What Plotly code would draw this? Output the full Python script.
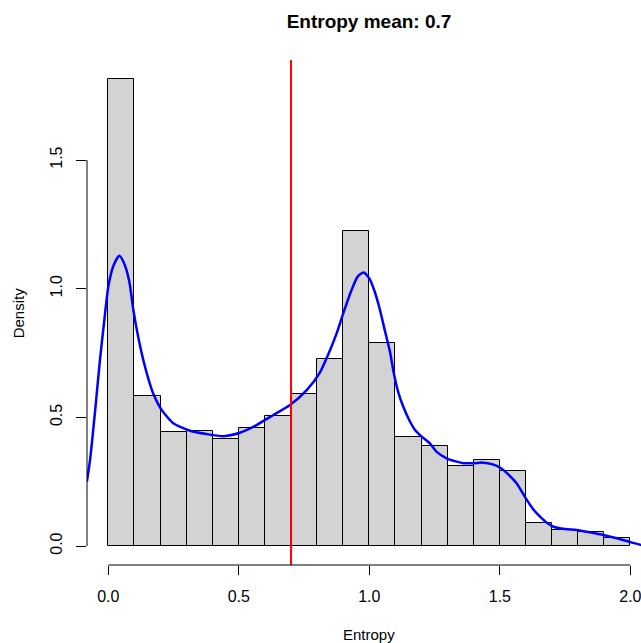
import plotly.graph_objects as go

# Histogram of entropy values (density scale, bin width 0.1)
bin_left = [0.0, 0.1, 0.2, 0.3, 0.4, 0.5, 0.6, 0.7, 0.8, 0.9,
            1.0, 1.1, 1.2, 1.3, 1.4, 1.5, 1.6, 1.7, 1.8, 1.9]
bin_density = [1.815, 0.582, 0.443, 0.446, 0.415, 0.457, 0.506, 0.591, 0.725, 1.223,
               0.788, 0.425, 0.389, 0.312, 0.334, 0.293, 0.088, 0.061, 0.054, 0.032]
bin_width = 0.1

# Kernel density estimate of the same values
kde_x = [-0.082, -0.070, -0.050, -0.032, -0.015, 0.000, 0.020, 0.042, 0.060, 0.080,
         0.096, 0.115, 0.134, 0.155, 0.172, 0.205, 0.249, 0.313, 0.377, 0.441,
         0.504, 0.568, 0.632, 0.696, 0.760, 0.811, 0.849, 0.875, 0.900, 0.930,
         0.955, 0.978, 1.000, 1.020, 1.040, 1.060, 1.080, 1.092, 1.110, 1.130,
         1.156, 1.175, 1.194, 1.232, 1.258, 1.296, 1.335, 1.360, 1.400, 1.436,
         1.470, 1.500, 1.530, 1.564, 1.603, 1.630, 1.654, 1.680, 1.705, 1.750,
         1.794, 1.850, 1.896, 1.948, 2.000, 2.045]
kde_y = [0.250, 0.334, 0.530, 0.723, 0.880, 1.008, 1.090, 1.128, 1.100, 1.030,
         0.917, 0.810, 0.723, 0.645, 0.593, 0.528, 0.477, 0.448, 0.435, 0.427,
         0.440, 0.470, 0.509, 0.548, 0.606, 0.675, 0.760, 0.827, 0.904, 0.990,
         1.047, 1.063, 1.040, 0.990, 0.920, 0.835, 0.750, 0.680, 0.600, 0.541,
         0.483, 0.451, 0.431, 0.399, 0.366, 0.341, 0.328, 0.322, 0.322, 0.324,
         0.318, 0.305, 0.280, 0.244, 0.179, 0.140, 0.114, 0.090, 0.075, 0.066,
         0.062, 0.052, 0.043, 0.030, 0.015, 0.003]

entropy_mean = 0.7

x_ticks = [0.0, 0.5, 1.0, 1.5, 2.0]
y_ticks = [0.0, 0.5, 1.0, 1.5]

FONT = "Liberation Sans, Arial, Helvetica, sans-serif"

bin_centers = [b + bin_width / 2 for b in bin_left]

fig = go.Figure()

fig.add_trace(go.Bar(
    x=bin_centers,
    y=bin_density,
    width=[bin_width] * len(bin_left),
    marker=dict(color="#D3D3D3", line=dict(color="black", width=1)),
    hoverinfo="skip",
    showlegend=False,
))

fig.add_trace(go.Scatter(
    x=kde_x,
    y=kde_y,
    mode="lines",
    line=dict(color="#0000FF", width=2.5, shape="spline", smoothing=0.6),
    hoverinfo="skip",
    showlegend=False,
))

shapes = [
    # mean marker
    dict(type="line", xref="x", yref="paper", x0=entropy_mean, x1=entropy_mean,
         y0=0, y1=1, line=dict(color="#FF0000", width=2)),
    # x axis line spanning the tick range
    dict(type="line", xref="x", yref="paper", x0=x_ticks[0], x1=x_ticks[-1],
         y0=0, y1=0, line=dict(color="black", width=1)),
    # y axis line spanning the tick range
    dict(type="line", xref="paper", yref="y", x0=0, x1=0,
         y0=y_ticks[0], y1=y_ticks[-1], line=dict(color="black", width=1)),
]

annotations = [
    dict(text="Entropy", xref="x", yref="paper", x=1.0, y=-0.137,
         xanchor="center", yanchor="middle", showarrow=False,
         font=dict(family=FONT, size=15, color="black")),
    dict(text="Density", xref="paper", yref="y", x=-0.123, y=0.9075,
         xanchor="center", yanchor="middle", textangle=-90, showarrow=False,
         font=dict(family=FONT, size=15, color="black")),
]

fig.update_layout(
    width=641,
    height=643,
    margin=dict(l=87, r=0, t=60, b=78),
    paper_bgcolor="white",
    plot_bgcolor="white",
    bargap=0,
    shapes=shapes,
    annotations=annotations,
    title=dict(
        text="<b>Entropy mean: 0.7</b>",
        x=369 / 641, xref="container", xanchor="center",
        y=1 - 21 / 643, yref="container", yanchor="middle",
        font=dict(family=FONT, size=19, color="black"),
    ),
    xaxis=dict(
        range=[-0.0816, 2.0406],
        showgrid=False, zeroline=False, showline=False,
        tickmode="array", tickvals=x_ticks,
        ticktext=[f"{v:.1f}" for v in x_ticks],
        ticks="outside", ticklen=9, tickcolor="black", tickwidth=1,
        ticklabelstandoff=8,
        ticklabeloverflow="allow",
        tickfont=dict(family=FONT, size=16, color="black"),
        fixedrange=True,
    ),
    yaxis=dict(
        range=[-0.0738, 1.8886],
        showgrid=False, zeroline=False, showline=False,
        tickmode="array", tickvals=y_ticks,
        ticktext=[f"{v:.1f}" for v in y_ticks],
        ticks="outside", ticklen=10, tickcolor="black", tickwidth=1,
        tickangle=-90,
        ticklabelstandoff=8,
        tickfont=dict(family=FONT, size=16, color="black"),
        fixedrange=True,
    ),
)

fig.write_html("out.html")
